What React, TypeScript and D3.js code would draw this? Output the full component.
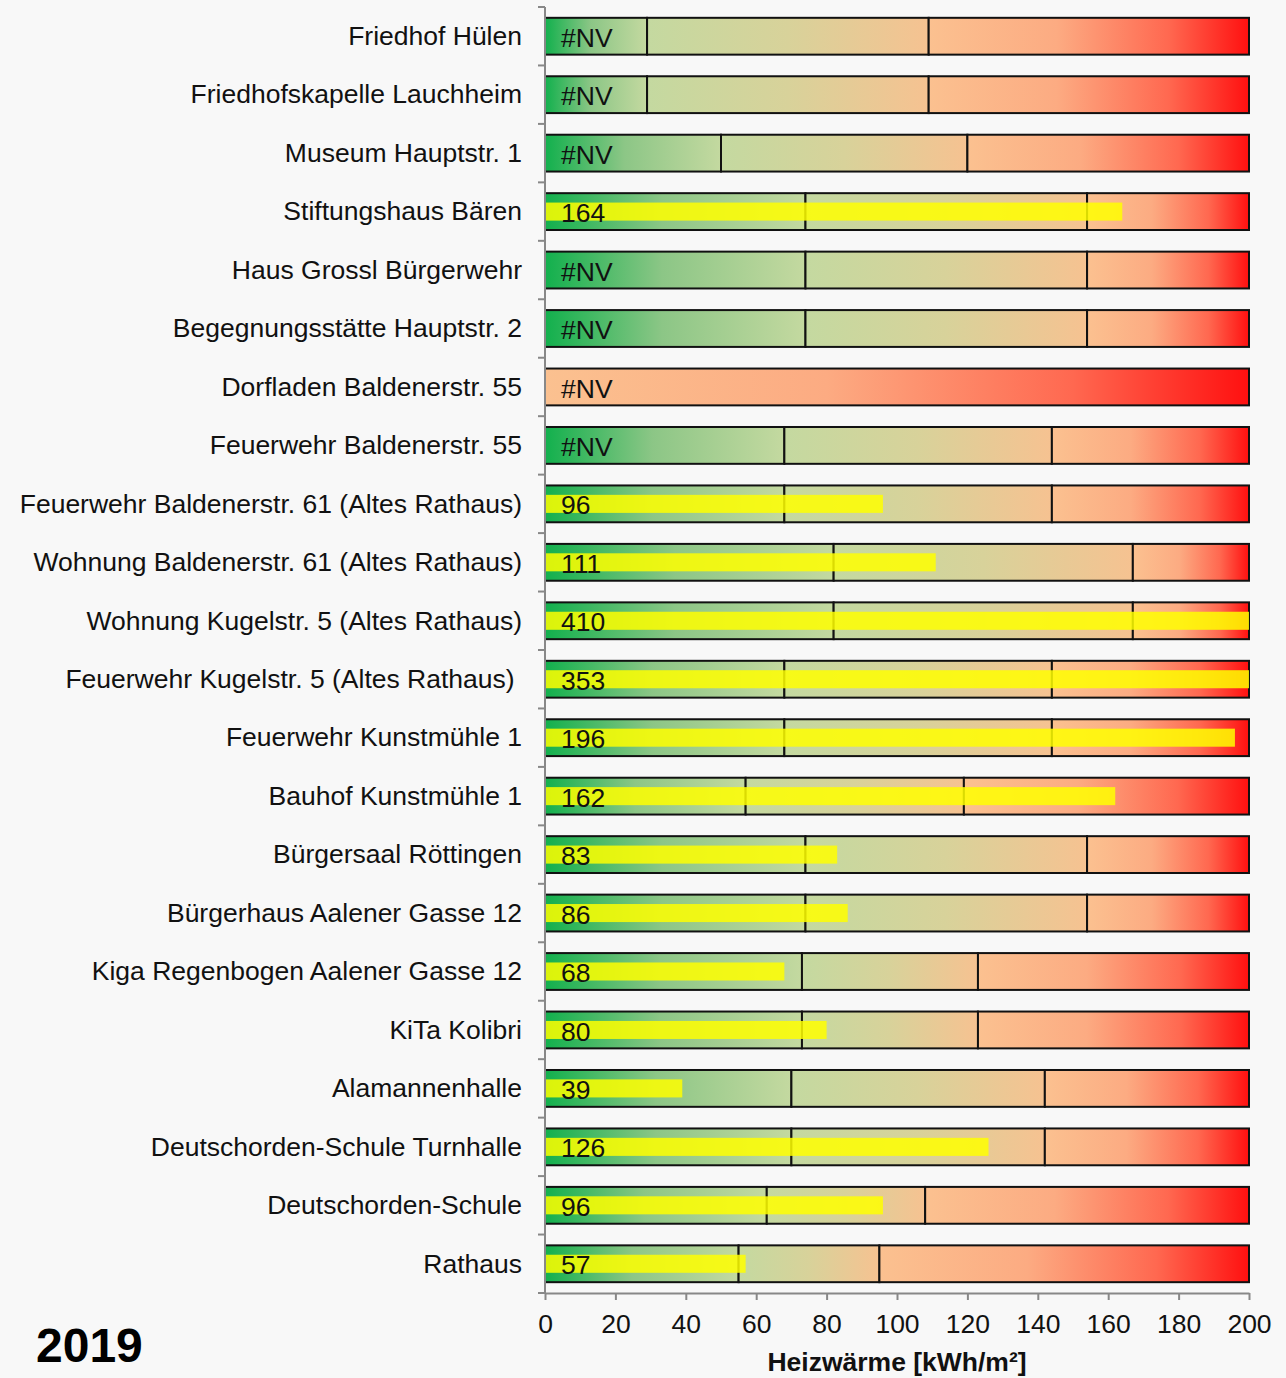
import React, { useEffect, useRef } from 'react'
import * as d3 from 'd3'

// Gebäude (oben nach unten)
const categories = [
  'Friedhof Hülen',
  'Friedhofskapelle Lauchheim',
  'Museum Hauptstr. 1',
  'Stiftungshaus Bären',
  'Haus Grossl Bürgerwehr',
  'Begegnungsstätte Hauptstr. 2',
  'Dorfladen Baldenerstr. 55',
  'Feuerwehr Baldenerstr. 55',
  'Feuerwehr Baldenerstr. 61 (Altes Rathaus)',
  'Wohnung Baldenerstr. 61 (Altes Rathaus)',
  'Wohnung Kugelstr. 5 (Altes Rathaus)',
  'Feuerwehr Kugelstr. 5 (Altes Rathaus) ',
  'Feuerwehr Kunstmühle 1',
  'Bauhof Kunstmühle 1',
  'Bürgersaal Röttingen',
  'Bürgerhaus Aalener Gasse 12',
  'Kiga Regenbogen Aalener Gasse 12',
  'KiTa Kolibri',
  'Alamannenhalle',
  'Deutschorden-Schule Turnhalle',
  'Deutschorden-Schule',
  'Rathaus',
]

// Heizwärme-Kennwert 2019 (null = #NV)
const values: (number | null)[] = [
  null, null, null, 164, null, null, null, null, 96, 111, 410,
  353, 196, 162, 83, 86, 68, 80, 39, 126, 96, 57,
]

// Vergleichswerte: Zielwert / Mittelwert
const thresholdLow = [29, 29, 50, 74, 74, 74, 0, 68, 68, 82, 82, 68, 68, 57, 74, 74, 73, 73, 70, 70, 63, 55]
const thresholdHigh = [109, 109, 120, 154, 154, 154, 0, 144, 144, 167, 167, 144, 144, 119, 154, 154, 123, 123, 142, 142, 108, 95]

const xTicks = [0, 20, 40, 60, 80, 100, 120, 140, 160, 180, 200]
const X_MAX = 200

const WIDTH = 1286
const HEIGHT = 1378
const FONT = '"Liberation Sans", Arial, sans-serif'
const FS = 26.5

const App: React.FC = () => {
  const svgRef = useRef<SVGSVGElement>(null)

  useEffect(() => {
    const svg = d3.select(svgRef.current)
    svg.selectAll('*').remove()

    const margin = { top: 7, right: 37, bottom: 85, left: 545 }
    const innerWidth = WIDTH - margin.left - margin.right
    const innerHeight = HEIGHT - margin.top - margin.bottom

    svg.append('rect')
      .attr('width', WIDTH)
      .attr('height', HEIGHT)
      .attr('fill', '#f8f8f8')

    // Verläufe für die drei Bereiche
    const defs = svg.append('defs')
    const makeGradient = (id: string, stops: [number, string][]) => {
      const grad = defs.append('linearGradient')
        .attr('id', id)
        .attr('x1', '0%').attr('x2', '100%')
        .attr('y1', '0%').attr('y2', '0%')
      stops.forEach(([o, c]) => {
        grad.append('stop').attr('offset', o).attr('stop-color', c)
      })
    }
    makeGradient('gGood', [[0, '#12b04d'], [0.45, '#8cc686'], [1, '#c4d9a0']])
    makeGradient('gMid', [[0, '#c4d9a0'], [0.5, '#d8d29a'], [1, '#f6c291']])
    makeGradient('gBad', [[0, '#fbc190'], [0.4, '#fcab82'], [0.75, '#ff6850'], [1, '#ff1010']])

    const g = svg.append('g')
      .attr('transform', `translate(${margin.left},${margin.top})`)

    const x = d3.scaleLinear().domain([0, X_MAX]).range([0, innerWidth])
    const y = d3.scaleBand<string>()
      .domain(categories)
      .range([0, innerHeight])
      .paddingInner(0.37)
      .paddingOuter(0.185)

    const rows = categories.map((c, i) => ({
      name: c,
      value: values[i],
      lo: thresholdLow[i],
      hi: thresholdHigh[i],
    }))

    const row = g.selectAll('.row')
      .data(rows)
      .enter()
      .append('g')
      .attr('class', 'row')
      .attr('transform', d => `translate(0,${y(d.name)})`)

    const bh = y.bandwidth()

    // Hintergrundsegmente
    row.each(function (d) {
      const r = d3.select(this)
      const segs = [
        { a: 0, b: d.lo, fill: 'url(#gGood)' },
        { a: d.lo, b: d.hi, fill: 'url(#gMid)' },
        { a: d.hi, b: X_MAX, fill: 'url(#gBad)' },
      ].filter(s => s.b > s.a)
      r.selectAll('rect.seg')
        .data(segs)
        .enter()
        .append('rect')
        .attr('class', 'seg')
        .attr('x', s => x(s.a))
        .attr('y', 0)
        .attr('width', s => x(s.b) - x(s.a))
        .attr('height', bh)
        .attr('fill', s => s.fill)
        .attr('stroke', '#111')
        .attr('stroke-width', 2)
    })

    // Kennwertbalken
    const barH = bh * 0.49
    row.filter(d => d.value !== null)
      .append('rect')
      .attr('x', x(0))
      .attr('y', (bh - barH) / 2)
      .attr('width', d => x(Math.min(d.value as number, X_MAX)) - x(0))
      .attr('height', barH)
      .attr('fill', '#ffff00')
      .attr('fill-opacity', 0.85)

    row.append('text')
      .attr('x', x(0) + 16)
      .attr('y', bh / 2)
      .attr('dy', '0.4em')
      .attr('font-family', FONT)
      .attr('font-size', FS)
      .attr('fill', '#111')
      .text(d => (d.value === null ? '#NV' : `${d.value}`))

    // Kategorien-Beschriftung
    row.append('text')
      .attr('x', -23)
      .attr('y', bh / 2)
      .attr('dy', '0.33em')
      .attr('text-anchor', 'end')
      .attr('font-family', FONT)
      .attr('font-size', FS)
      .attr('fill', '#111')
      .style('white-space', 'pre')
      .text(d => d.name)

    // Y-Achse
    const axisColor = '#888'
    g.append('line')
      .attr('x1', 0).attr('x2', 0)
      .attr('y1', 0).attr('y2', innerHeight)
      .attr('stroke', axisColor)
      .attr('stroke-width', 2)
    const step = y.step()
    d3.range(categories.length + 1).forEach(i => {
      g.append('line')
        .attr('x1', -7).attr('x2', 0)
        .attr('y1', i * step).attr('y2', i * step)
        .attr('stroke', axisColor)
        .attr('stroke-width', 2)
    })

    // X-Achse
    const xAxis = g.append('g')
      .attr('transform', `translate(0,${innerHeight})`)
      .call(d3.axisBottom(x).tickValues(xTicks).tickSize(7).tickSizeOuter(0).tickPadding(14))
    xAxis.select('.domain').attr('stroke', axisColor).attr('stroke-width', 2)
    xAxis.selectAll('.tick line').attr('stroke', axisColor).attr('stroke-width', 2)
    xAxis.selectAll('.tick text')
      .attr('font-family', FONT)
      .attr('font-size', FS)
      .attr('fill', '#111')

    svg.append('text')
      .attr('x', margin.left + innerWidth / 2)
      .attr('y', 1371)
      .attr('text-anchor', 'middle')
      .attr('font-family', FONT)
      .attr('font-size', FS)
      .attr('font-weight', 'bold')
      .attr('fill', '#111')
      .text('Heizwärme [kWh/m²]')

    svg.append('text')
      .attr('x', 36)
      .attr('y', 1362)
      .attr('font-family', FONT)
      .attr('font-size', 48)
      .attr('font-weight', 'bold')
      .attr('fill', '#000')
      .text('2019')
  }, [])

  return (
    <div style={{ position: 'absolute', left: 0, top: 0 }}>
      <svg ref={svgRef} width={WIDTH} height={HEIGHT} style={{ display: 'block' }}></svg>
    </div>
  )
}

export default App
